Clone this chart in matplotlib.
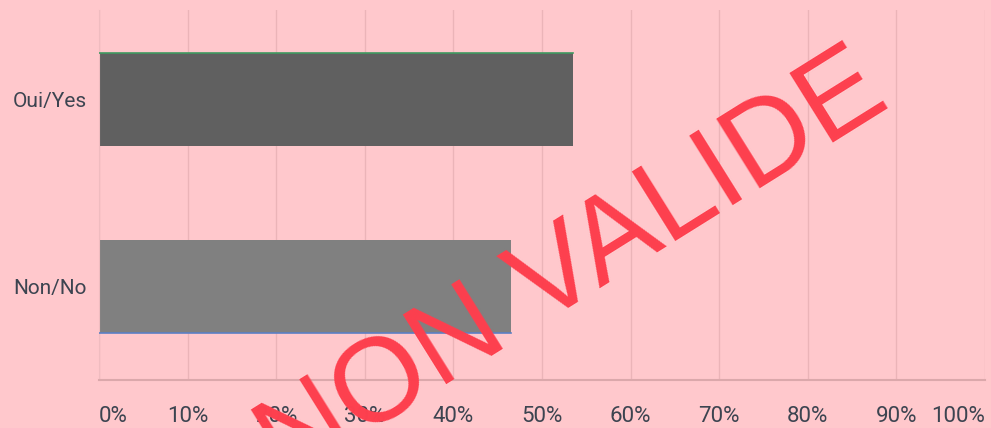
import matplotlib
matplotlib.use('Agg')
import matplotlib.pyplot as plt

# data
categories = ['Non/No', 'Oui/Yes']
values = [46.5, 53.5]
bar_colors = ['#808080', '#606060']
edge_colors = ['#5b7fc4', '#3f9a60']
ticks = [0, 10, 20, 30, 40, 50, 60, 70, 80, 90, 100]
tick_labels = ['%d%%' % t for t in ticks]

bg = '#ffc8cc'
txt = '#3c4450'

fig = plt.figure(figsize=(9.91, 4.28), dpi=100, facecolor=bg)
ax = fig.add_axes([0.0999, 0.112, 0.894, 0.865])
ax.set_facecolor(bg)

ypos = list(range(len(categories)))
ax.barh(ypos, values, height=0.5, color=bar_colors, zorder=2)
# thin coloured edge lines seen on the bars
ax.plot([0, values[0]], [-0.25, -0.25], color=edge_colors[0], lw=1.2, zorder=3)
ax.plot([0, values[1]], [1.25, 1.25], color=edge_colors[1], lw=1.2, zorder=3)

ax.set_xlim(0, 100)
ax.set_ylim(-0.5, 1.48)
ax.set_yticks(ypos)
ax.set_yticklabels(categories, fontsize=15, color=txt, family='Roboto')
ax.set_xticks(ticks)
ax.set_xticklabels(tick_labels, fontsize=16, color=txt, family='Roboto')
labs = ax.get_xticklabels()
labs[0].set_ha('left')
labs[-1].set_ha('right')
ax.tick_params(axis='x', length=0, pad=19)
ax.tick_params(axis='y', length=0, pad=9)

ax.grid(axis='x', color='#ebb4b8', lw=1, zorder=1)
for s in ['top', 'right']:
    ax.spines[s].set_visible(False)
ax.spines['left'].set_color('#f0bcc0')
ax.spines['bottom'].set_color('#dba8ab')
ax.spines['bottom'].set_linewidth(1.5)

fig.text(0.595, 0.312, 'NON VALIDE', fontsize=86, color='#fd3f4e',
         family='Liberation Sans', rotation=32, rotation_mode='anchor',
         ha='center', va='baseline', zorder=10)

fig.savefig('out.png', dpi=100, facecolor=bg)
